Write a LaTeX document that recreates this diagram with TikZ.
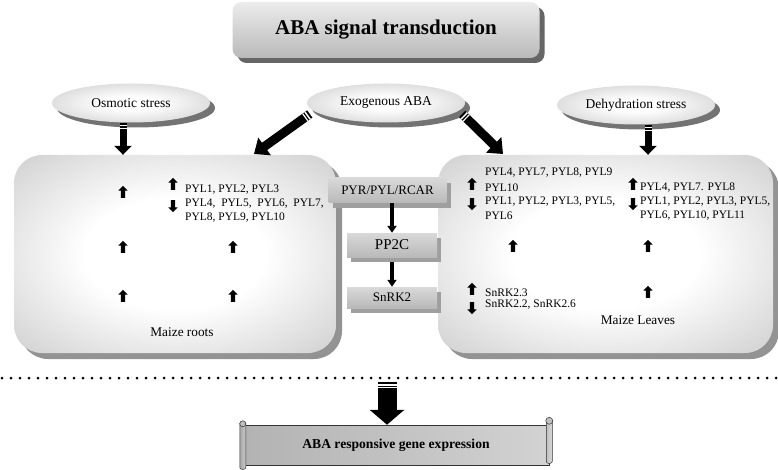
\documentclass[tikz,border=0pt]{standalone}
\usepackage{fontspec}
\setmainfont{Liberation Serif}
\usetikzlibrary{arrows.meta,shapes.geometric,shapes.arrows,shadows}

\pgfdeclareradialshading{glow}{\pgfpoint{0bp}{0bp}}{color(0bp)=(white); color(14bp)=(white); color(46bp)=(gray!55); color(75bp)=(gray!55)}
\pgfdeclareradialshading{ovalglow}{\pgfpoint{0bp}{0bp}}{color(0bp)=(white); color(8bp)=(white); color(50bp)=(gray!62); color(75bp)=(gray!62)}

\begin{document}
\begin{tikzpicture}[x=1pt, y=-1pt,
  titlebox/.style={rounded corners=9pt, minimum width=307pt, minimum height=56pt,
    top color=gray!15, middle color=white, bottom color=gray!55,
    drop shadow={shadow xshift=5pt, shadow yshift=-5pt, fill=black!60, opacity=1},
    font=\fontsize{21}{24}\selectfont\bfseries},
  oval/.style={ellipse, minimum width=158pt, minimum height=39pt, shading=ovalglow,
    drop shadow={shadow xshift=5pt, shadow yshift=-5pt, fill=black!55, opacity=1},
    font=\fontsize{13.5}{16}\selectfont},
  tissue/.style={rounded corners=28pt, minimum height=198pt, shading=glow,
    drop shadow={shadow xshift=6pt, shadow yshift=-6pt, fill=gray!85, opacity=1}},
  bar/.style={top color=gray!30, middle color=white, bottom color=gray!55, inner sep=0pt,
    drop shadow={shadow xshift=4pt, shadow yshift=-5pt, fill=gray!75, opacity=1}},
  scroll/.style={left color=gray!60, middle color=gray!8, right color=gray!35,
    draw=gray!40!black, line width=0.5pt,
    font=\fontsize{13.6}{16}\selectfont\bfseries},
  gene/.style={anchor=west, inner sep=0pt, font=\fontsize{11.5}{14}\selectfont},
  tissuename/.style={inner sep=0pt, font=\fontsize{13.3}{16}\selectfont},
  uparr/.style={single arrow, fill=black, inner sep=2pt, minimum height=12pt,
    single arrow head extend=2.5pt, single arrow head indent=0pt, shape border rotate=90},
  downarr/.style={uparr, shape border rotate=270},
  blk/.style={line width=7pt, -{Triangle[width=17pt, length=9pt]}},
  fat/.style={line width=9pt, -{Triangle[width=21pt, length=13pt]}},
  huge/.style={line width=19pt, -{Triangle[width=34pt, length=15pt]}},
  link/.style={line width=3.5pt, -{Triangle[width=9pt, length=7pt]}},
  stripe/.style={white, line width=#1, dash pattern=on 0pt off 2pt on 1.5pt off 1.5pt on 1.2pt off 200pt}
]
\useasboundingbox (0,0) rectangle (778,470);

% Title
\node[titlebox] (title) at (386,30) {ABA signal transduction};

% Stimuli
\node[oval] (osm) at (131,103) {Osmotic stress};
\node[oval] (exo) at (386,103) {Exogenous ABA};
\node[oval] (deh) at (636,105) {Dehydration stress};

% Tissues
\node[tissue, minimum width=322pt] (roots) at (175,254) {};
\node[tissue, minimum width=335pt] (leaves) at (605.5,254) {};

% Core pathway
\node[bar, minimum width=118pt, minimum height=25pt, font=\fontsize{13}{15}\selectfont] (pyr) at (387.5,190.5) {PYR/PYL/RCAR};
\node[bar, minimum width=90pt, minimum height=24pt, font=\fontsize{15}{17}\selectfont] (pp2c) at (392,245) {PP2C};
\node[bar, minimum width=90pt, minimum height=21pt, font=\fontsize{13}{15}\selectfont] (snrk) at (392,297.5) {SnRK2};

\draw[link] (pp2c.north |- pyr.south) -- (pp2c.north);
\draw[link] ([yshift=-5pt]pp2c.south) -- (snrk.north);

% Stimuli -> tissues
\coordinate (rootsIn) at (254,154);
\coordinate (leavesIn) at (503,154);
\draw[blk] ([xshift=-8pt]osm.south) -- ([xshift=-8pt]osm.south |- roots.north);
\draw[stripe=7pt] ([xshift=-8pt]osm.south) -- ([xshift=-8pt]osm.south |- roots.north);
\draw[blk] ([xshift=12pt]deh.south) -- ([xshift=12pt]deh.south |- leaves.north);
\draw[stripe=7pt] ([xshift=12pt]deh.south) -- ([xshift=12pt]deh.south |- leaves.north);
\draw[fat] ([xshift=3pt,yshift=-11pt]exo.west) -- (rootsIn);
\draw[stripe=9pt] ([xshift=3pt,yshift=-11pt]exo.west) -- (rootsIn);
\draw[fat] ([xshift=-3pt,yshift=-11pt]exo.east) -- (leavesIn);
\draw[stripe=9pt] ([xshift=-3pt,yshift=-11pt]exo.east) -- (leavesIn);

% Maize roots
\foreach \x/\y [count=\i] in {123/193, 123/248, 123/297, 233/248, 233/297}
  \node[uparr] (ru\i) at (\x,\y) {};
\node[uparr] (rpu) at (173,185) {};
\node[downarr] (rpd) at (173,205) {};
\node[gene] (r1) at (185,190) {PYL1, PYL2, PYL3};
\node[gene] (r2) at (185,204) {PYL4,\ \ PYL5,\ \ PYL6,\ \ PYL7,};
\node[gene] (r3) at (185,218) {PYL8, PYL9, PYL10};
\node[tissuename] (rname) at (182,332) {Maize roots};

% Maize leaves
\foreach \x/\y [count=\i] in {513/247, 648/247, 648/293}
  \node[uparr] (lu\i) at (\x,\y) {};
\node[uparr] (lpu) at (472,185) {};
\node[downarr] (lpd) at (472,203) {};
\node[gene] (l1) at (485,173) {PYL4, PYL7, PYL8, PYL9};
\node[gene] (l2) at (485,188) {PYL10};
\node[gene] (l3) at (485,202) {PYL1, PYL2, PYL3, PYL5,};
\node[gene] (l4) at (485,216) {PYL6};
\node[uparr] (lsu) at (472,290) {};
\node[downarr] (lsd) at (472,307) {};
\node[gene] (l5) at (485,293) {SnRK2.3};
\node[gene] (l6) at (485,305) {SnRK2.2, SnRK2.6};
\node[uparr] (dpu) at (633,185) {};
\node[downarr] (dpd) at (633,203) {};
\node[gene] (d1) at (640,188) {PYL4, PYL7. PYL8};
\node[gene] (d2) at (640,202) {PYL1, PYL2, PYL3, PYL5,};
\node[gene] (d3) at (640,216) {PYL6, PYL10, PYL11};
\node[tissuename] (lname) at (638,320) {Maize Leaves};

% Separator
\coordinate (sepL) at (2,378);
\coordinate (sepR) at (778,378);
\draw[line width=3pt, line cap=round, dash pattern=on 0pt off 9pt] (sepL) -- (sepR);

% Gene expression
\node[scroll, minimum width=306pt, minimum height=40pt] (expr) at (396,445) {ABA responsive gene expression};
\draw[left color=gray!70, right color=gray!40, draw=gray!40!black, line width=0.5pt, rounded corners=2pt]
  ([xshift=-3pt,yshift=3pt]expr.north west) rectangle ([xshift=3pt,yshift=-4pt]expr.south west);
\draw[fill=gray!50, draw=gray!40!black, line width=0.5pt] ([yshift=1pt]expr.north west) circle (3pt);
\draw[left color=gray!50, right color=gray!30, draw=gray!40!black, line width=0.5pt, rounded corners=2pt]
  ([xshift=-3pt,yshift=6pt]expr.north east) rectangle ([xshift=3pt,yshift=2pt]expr.south east);
\draw[fill=gray!50, draw=gray!40!black, line width=0.5pt] ([yshift=4pt]expr.north east) circle (3.5pt);
\coordinate (down) at (387,382);
\draw[huge] (down) -- (down |- expr.north);
\draw[stripe=19pt] (down) -- (down |- expr.north);

\end{tikzpicture}
\end{document}
